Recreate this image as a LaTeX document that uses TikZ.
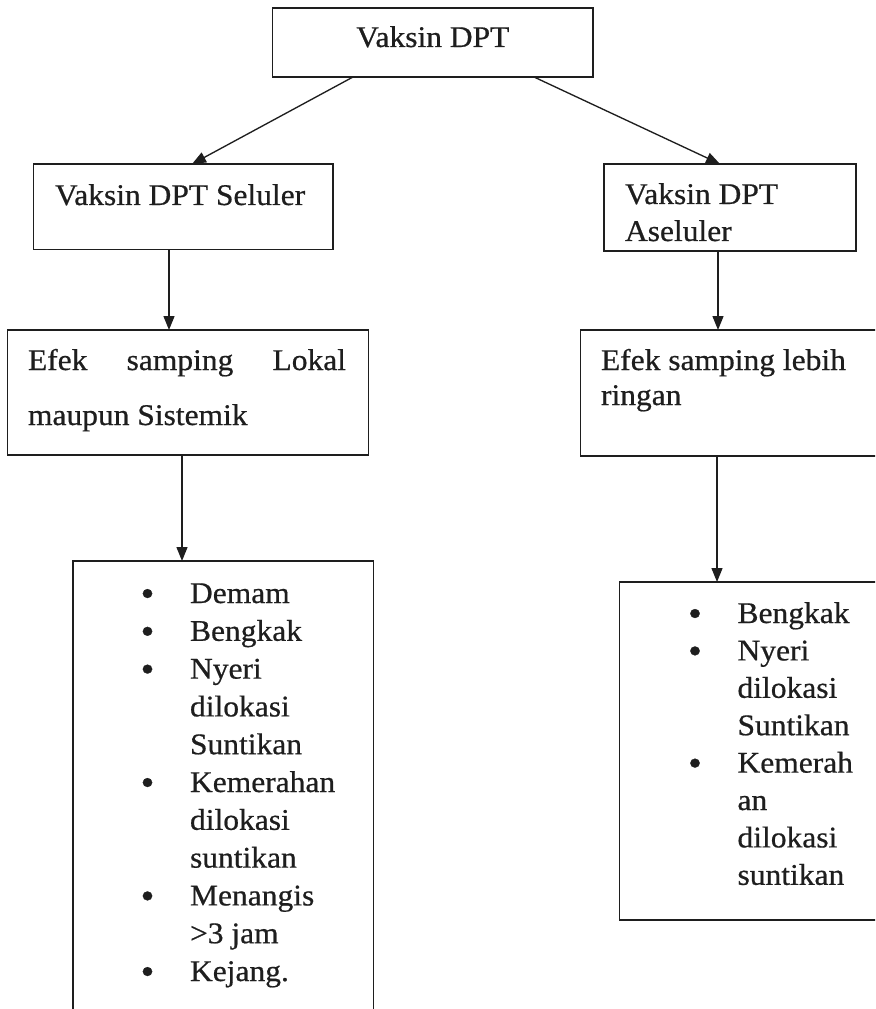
\documentclass[tikz,border=0pt]{standalone}
\usepackage{fontspec}
\usepackage{graphicx}
\setmainfont{Liberation Serif}[FakeStretch=1.05,FakeBold=0.6]
\usetikzlibrary{arrows.meta,calc}
\definecolor{ink}{HTML}{1E1E1E}
\newcommand\bl{\rlap{\makebox[0pt][c]{\raisebox{-2.2pt}{\scalebox{1.25}{•}}}}\hspace{31.9pt}}
\newcommand\nb{\hspace{31.9pt}}
\begin{document}
\begin{tikzpicture}[x=0.75pt,y=-0.75pt,
  every node/.style={inner sep=0pt, outer sep=0pt},
  box/.style 2 args={draw=ink, line width=1.2pt, rectangle,
    minimum width=#1*0.75pt, minimum height=#2*0.75pt},
  arr/.style={draw=ink, line width=1pt, -{Triangle[length=10.5pt,width=8.25pt]}},
  txt/.style={font=\fontsize{22.5}{28.35}\selectfont, text=ink, anchor=base west},
  txtb/.style={font=\fontsize{22.5}{28.05}\selectfont, text=ink, anchor=base west}]
\useasboundingbox (0,0) rectangle (875,1009);
\fill[white] (0,0) rectangle (875,1009);
\clip (0,0) rectangle (875,1009);

% boxes
\node[box={320.3}{69}]   (top) at (432.8,42.5) {};
\node[box={299.4}{85.3}] (L2)  at (183,206.7) {};
\node[box={251.8}{87}]   (R2)  at (729.8,207.5) {};
\node[box={361}{125}]    (L3)  at (187.8,392.5) {};
\node[box={299.6}{126}]  (R3)  at (730.2,393) {};
\node[box={300.6}{459}]  (L4)  at (223,790.5) {};
\node[box={260.7}{338}]  (R4)  at (749.65,751) {};

% connectors
\draw[arr] ($(top.south)+(-79.8,0)$) -- ($(L2.north)+(9,0)$);
\draw[arr] ($(top.south)+(101.2,0)$) -- ($(R2.north)+(-9.8,0)$);
\draw[arr] ($(L2.south)+(-14,0)$) -- ($(L3.north)+(-18.8,0)$);
\draw[arr] ($(R2.south)+(-11.8,0)$) -- ($(R3.north)+(-12.2,0)$);
\draw[arr] ($(L3.south)+(-5.8,0)$) -- ($(L4.north)+(-41,0)$);
\draw[arr] ($(R3.south)+(-13.2,0)$) -- ($(R4.north)+(-32.65,0)$);

% texts
\node[txt, anchor=base] (t0) at (432.8,47) {Vaksin DPT};
\node[txt] (t1) at (55,205) {Vaksin DPT Seluler};
\node[txt] (t2) at (625,204) {Vaksin DPT};
\node[txt] (t3) at (625,241) {Aseluler};
\node[txt] (t4) at (28,370) {\makebox[238.5pt][s]{Efek samping Lokal}};
\node[txt] (t5) at (28,425) {maupun Sistemik};
\node[txt] (t6) at (601,370) {Efek samping lebih};
\node[txt] (t7) at (601,405) {ringan};

\node[txt] (list1) at (147.5,603) {\begin{tabular}[t]{@{}l@{}}
\bl Demam\\
\bl Bengkak\\
\bl Nyeri\\
\nb dilokasi\\
\nb Suntikan\\
\bl Kemerahan\\
\nb dilokasi\\
\nb suntikan\\
\bl Menangis\\
\nb >3 jam\\
\bl Kejang.
\end{tabular}};

\node[txtb] (list2) at (695,623) {\begin{tabular}[t]{@{}l@{}}
\bl Bengkak\\
\bl Nyeri\\
\nb dilokasi\\
\nb Suntikan\\
\bl Kemerah\\
\nb an\\
\nb dilokasi\\
\nb suntikan
\end{tabular}};
\end{tikzpicture}
\end{document}
